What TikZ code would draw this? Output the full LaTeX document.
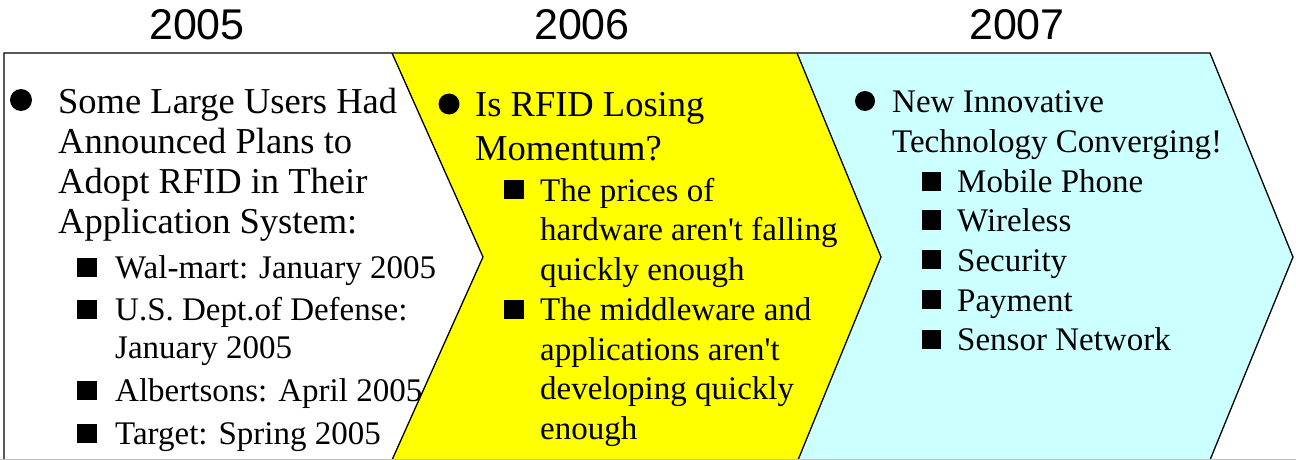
\documentclass[tikz,border=0pt]{standalone}
\usepackage{fontspec}
\setmainfont{Liberation Serif}
\newfontfamily\yearfont{Liberation Sans}
\usepackage{tikz}
\definecolor{chevyellow}{RGB}{255,255,0}
\definecolor{chevcyan}{RGB}{204,255,255}

\begin{document}
\begin{tikzpicture}[x=1pt,y=-1pt,
  year/.style={font=\yearfont\fontsize{43}{46}\selectfont, inner sep=0pt, anchor=base},
  lvlone/.style={font=\fontsize{36.5}{40}\selectfont, inner sep=0pt, anchor=base west},
  lvltwo/.style={font=\fontsize{33}{38}\selectfont, inner sep=0pt, anchor=base west},
  edge/.style={line width=1.3pt, line join=miter}]
\useasboundingbox (0,0) rectangle (1296,460);

% chevron fills
\fill[white] (4,53) -- (392,53) -- (483,257) -- (392,460) -- (4,460) -- cycle;
\fill[chevyellow] (392,53) -- (797,53) -- (881,257) -- (798,460) -- (392,460) -- (483,257) -- cycle;
\fill[chevcyan] (797,53) -- (1210,53) -- (1293,257) -- (1210,460) -- (798,460) -- (881,257) -- cycle;

% outlines
\draw[edge] (4,460) -- (4,53) -- (1210,53) -- (1293,257) -- (1210,460);
\draw[edge] (392,53) -- (483,257) -- (392,460);
\draw[edge] (797,53) -- (881,257) -- (798,460);
\draw[gray!50] (0,459.5) -- (1296,459.5);

% years
\node[year] (y2005) at (197,40) {2005};
\node[year] (y2006) at (582,40) {2006};
\node[year] (y2007) at (1017,40) {2007};

% 2005
\fill (21,100) circle (11pt);
\foreach \txt/\yy [count=\i] in {Some Large Users Had/113, Announced Plans to/153,
    Adopt RFID in Their/193, Application System:/233}
  \node[lvlone] (a\i) at (58,\yy) {\txt};
\foreach \yy in {257.5,299.5,380.5,423.5}
  \fill (77,\yy) rectangle +(19.5,19.5);
\foreach \txt/\yy [count=\i] in {Wal-mart: January 2005/278, U.S. Dept.of Defense:/320,
    January 2005/358, Albertsons: April 2005/401, Target: Spring 2005/444}
  \node[lvltwo] (b\i) at (115,\yy) {\txt};

% 2006
\fill (449,104) circle (10.5pt);
\foreach \txt/\yy [count=\i] in {Is RFID Losing/117, Momentum?/160}
  \node[lvlone] (c\i) at (475,\yy) {\txt};
\foreach \yy in {179.5,299.5}
  \fill (504,\yy) rectangle +(19.5,19.5);
\foreach \txt/\yy [count=\i] in {The prices of/201, hardware aren\textquotesingle t falling/240.5,
    quickly enough/280, The middleware and/320.5, applications aren\textquotesingle t/360,
    developing quickly/399.5, enough/439}
  \node[lvltwo] (d\i) at (540,\yy) {\txt};

% 2007
\fill (865,101) circle (10pt);
\foreach \txt/\yy [count=\i] in {New Innovative/112, Technology Converging!/152}
  \node[lvltwo] (e\i) at (892,\yy) {\txt};
\foreach \yy in {171.5,210,249.5,289.5,329.5}
  \fill (921.5,\yy) rectangle +(19.5,19.5);
\foreach \txt/\yy [count=\i] in {Mobile Phone/192, Wireless/231.5, Security/271,
    Payment/311, Sensor Network/350.5}
  \node[lvltwo] (f\i) at (957,\yy) {\txt};

\end{tikzpicture}
\end{document}
